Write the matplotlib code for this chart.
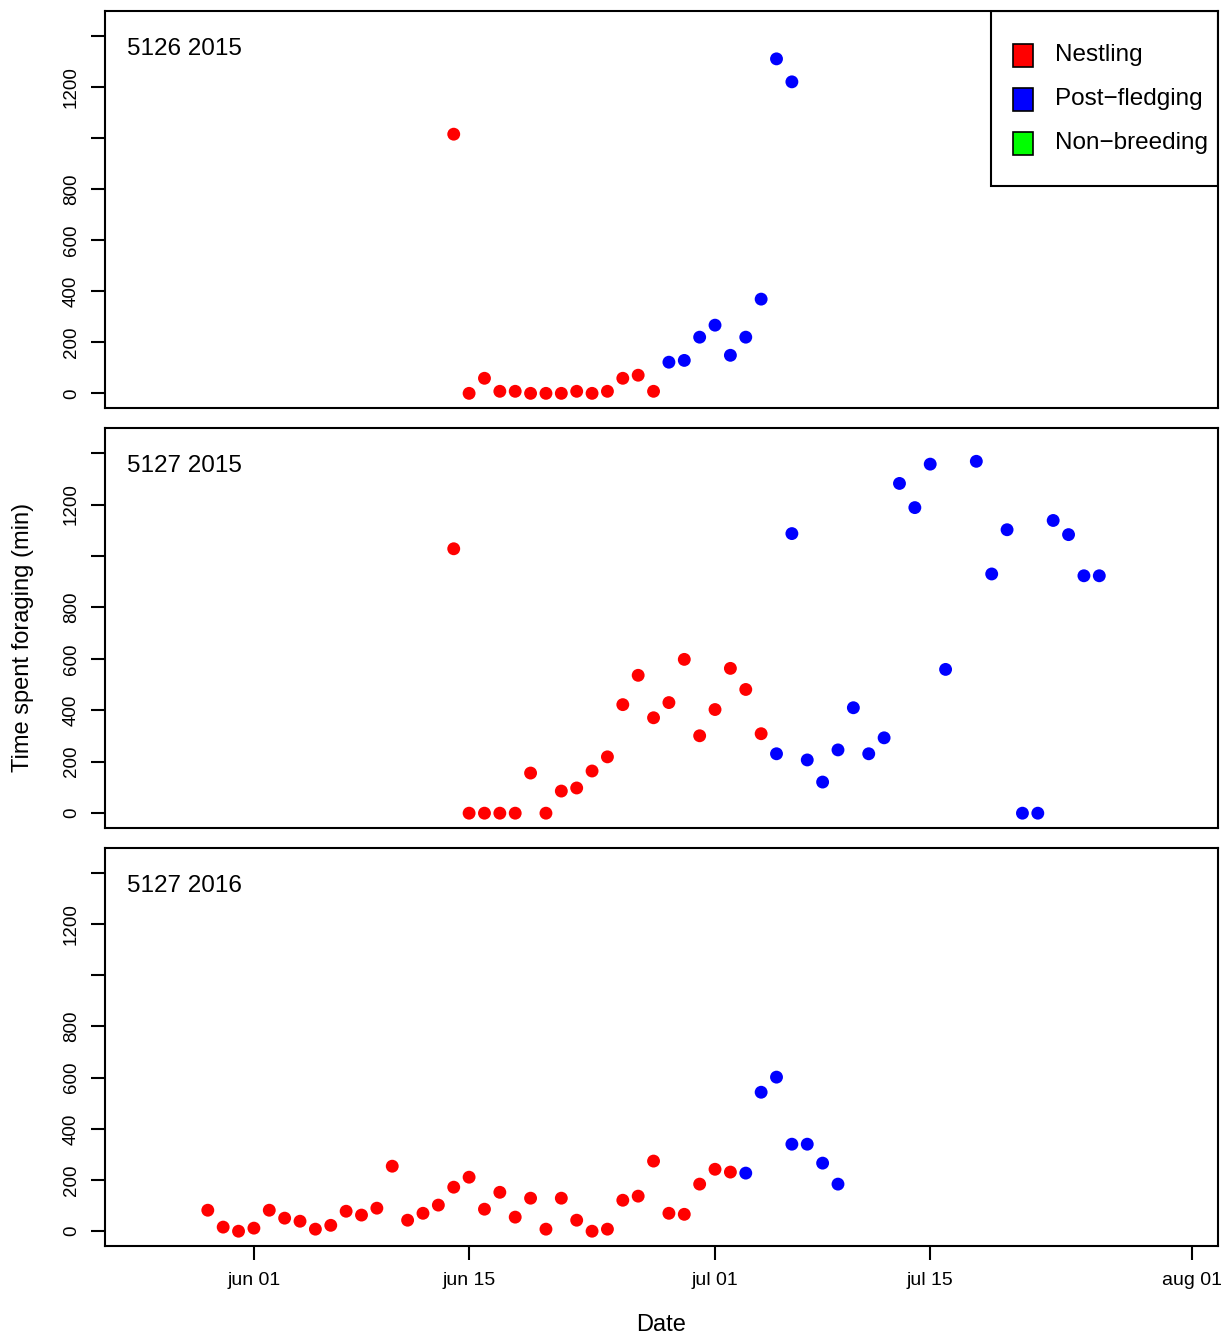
import matplotlib.pyplot as plt
import matplotlib.dates as mdates
from matplotlib.patches import Rectangle
import pandas as pd

plt.rcParams['font.family'] = ['Liberation Sans', 'DejaVu Sans']

# panel titles
titles = ["5126 2015", "5127 2015", "5127 2016"]

# 5126 2015
p1_nest_dates = ["06-14", "06-15", "06-16", "06-17", "06-18", "06-19", "06-20", "06-21",
                 "06-22", "06-23", "06-24", "06-25", "06-26", "06-27"]
p1_nest_vals = [1015, 0, 59, 8, 8, 0, 0, 0, 8, 0, 8, 59, 71, 8]
p1_post_dates = ["06-28", "06-29", "06-30", "07-01", "07-02", "07-03", "07-04", "07-05", "07-06"]
p1_post_vals = [122, 129, 220, 267, 149, 220, 369, 1310, 1220]

# 5127 2015
p2_nest_dates = ["06-14", "06-15", "06-16", "06-17", "06-18", "06-19", "06-20", "06-21",
                 "06-22", "06-23", "06-24", "06-25", "06-26", "06-27", "06-28", "06-29",
                 "06-30", "07-01", "07-02", "07-03", "07-04"]
p2_nest_vals = [1028, 0, 0, 0, 0, 156, 0, 86, 98, 164, 219, 422, 536, 371, 430, 598,
                301, 403, 563, 481, 309]
p2_post_dates = ["07-05", "07-06", "07-07", "07-08", "07-09", "07-10", "07-11", "07-12",
                 "07-13", "07-14", "07-15", "07-16", "07-18", "07-19", "07-20", "07-21",
                 "07-22", "07-23", "07-24", "07-25", "07-26"]
p2_post_vals = [231, 1087, 207, 121, 246, 410, 231, 293, 1282, 1188, 1357, 559, 1368,
                930, 1102, 0, 0, 1138, 1083, 923, 923]

# 5127 2016
p3_nest_dates = ["05-29", "05-30", "05-31", "06-01", "06-02", "06-03", "06-04", "06-05",
                 "06-06", "06-07", "06-08", "06-09", "06-10", "06-11", "06-12", "06-13",
                 "06-14", "06-15", "06-16", "06-17", "06-18", "06-19", "06-20", "06-21",
                 "06-22", "06-23", "06-24", "06-25", "06-26", "06-27", "06-28", "06-29",
                 "06-30", "07-01", "07-02"]
p3_nest_vals = [82, 16, 0, 12, 82, 51, 39, 8, 23, 78, 63, 90, 254, 43, 70, 102, 172, 211,
                86, 152, 55, 129, 8, 129, 43, 0, 8, 121, 137, 274, 70, 66, 184, 242, 231]
p3_post_dates = ["07-03", "07-04", "07-05", "07-06", "07-07", "07-08", "07-09"]
p3_post_vals = [227, 543, 602, 340, 340, 266, 184]

panels = [
    (p1_nest_dates, p1_nest_vals, p1_post_dates, p1_post_vals),
    (p2_nest_dates, p2_nest_vals, p2_post_dates, p2_post_vals),
    (p3_nest_dates, p3_nest_vals, p3_post_dates, p3_post_vals),
]

# x axis labels (month-day only, all seasons on one axis)
tick_dates = ["06-01", "06-15", "07-01", "07-15", "08-01"]
tick_labels = ["jun 01", "jun 15", "jul 01", "jul 15", "aug 01"]

legend_labels = ["Nestling", "Post\u2212fledging", "Non\u2212breeding"]
legend_colors = ["#ff0000", "#0000ff", "#00ff00"]


def to_dates(md):
    # put every season on the same calendar year so they line up
    return pd.to_datetime(["2015-" + d for d in md])


fig = plt.figure(figsize=(12.32, 13.37), dpi=100)

# axes boxes: left, bottom, width, height
boxes = [
    [0.0852, 0.6948, 0.9034, 0.2970],
    [0.0852, 0.3807, 0.9034, 0.2992],
    [0.0852, 0.0681, 0.9034, 0.2977],
]

x0 = mdates.date2num(pd.Timestamp("2015-05-22")) + 0.31
x1 = mdates.date2num(pd.Timestamp("2015-08-02")) + 0.72

for i, (nd, nv, pdts, pv) in enumerate(panels):
    ax = fig.add_axes(boxes[i])
    ax.scatter(to_dates(nd), nv, s=86, color="#ff0000", edgecolors="none", zorder=3)
    ax.scatter(to_dates(pdts), pv, s=86, color="#0000ff", edgecolors="none", zorder=3)

    ax.set_xlim(x0, x1)
    ax.set_ylim(-57.6, 1497.6)

    # y axis: ticks every 200, 1000 and 1400 left unlabelled like R does
    yt = [0, 200, 400, 600, 800, 1000, 1200, 1400]
    ax.set_yticks(yt)
    ax.set_yticklabels(["0", "200", "400", "600", "800", "", "1200", ""],
                       rotation=90, va="center", fontsize=13.5)
    ax.tick_params(axis="y", length=10, width=1.5, pad=8)

    if i == 2:
        ax.set_xticks(to_dates(tick_dates))
        ax.set_xticklabels(tick_labels, fontsize=14)
        ax.tick_params(axis="x", length=10, width=1.5, pad=9)
        ax.set_xlabel("Date", fontsize=17, labelpad=18)
    else:
        ax.set_xticks([])

    for sp in ax.spines.values():
        sp.set_linewidth(1.5)

    ax.text(0.02, 0.905, titles[i], transform=ax.transAxes, fontsize=17.5,
            ha="left", va="center")

    # legend box only on the top panel
    if i == 0:
        ax.add_patch(Rectangle((0.796, 0.559), 0.204, 0.441, transform=ax.transAxes,
                               fill=False, lw=1.5, edgecolor="black", zorder=5))
        rows = [0.889, 0.778, 0.667]
        for lab, col, ry in zip(legend_labels, legend_colors, rows):
            ax.add_patch(Rectangle((0.8163, ry - 0.029), 0.0171, 0.058,
                                   transform=ax.transAxes, facecolor=col,
                                   edgecolor="black", lw=1.2, zorder=5))
            ax.text(0.8535, ry, lab, transform=ax.transAxes, fontsize=17.5,
                    ha="left", va="center", zorder=5)

fig.text(0.019, 0.5236, "Time spent foraging (min)", rotation=90, fontsize=17,
         ha="center", va="center")

fig.savefig("out.png", dpi=100)
